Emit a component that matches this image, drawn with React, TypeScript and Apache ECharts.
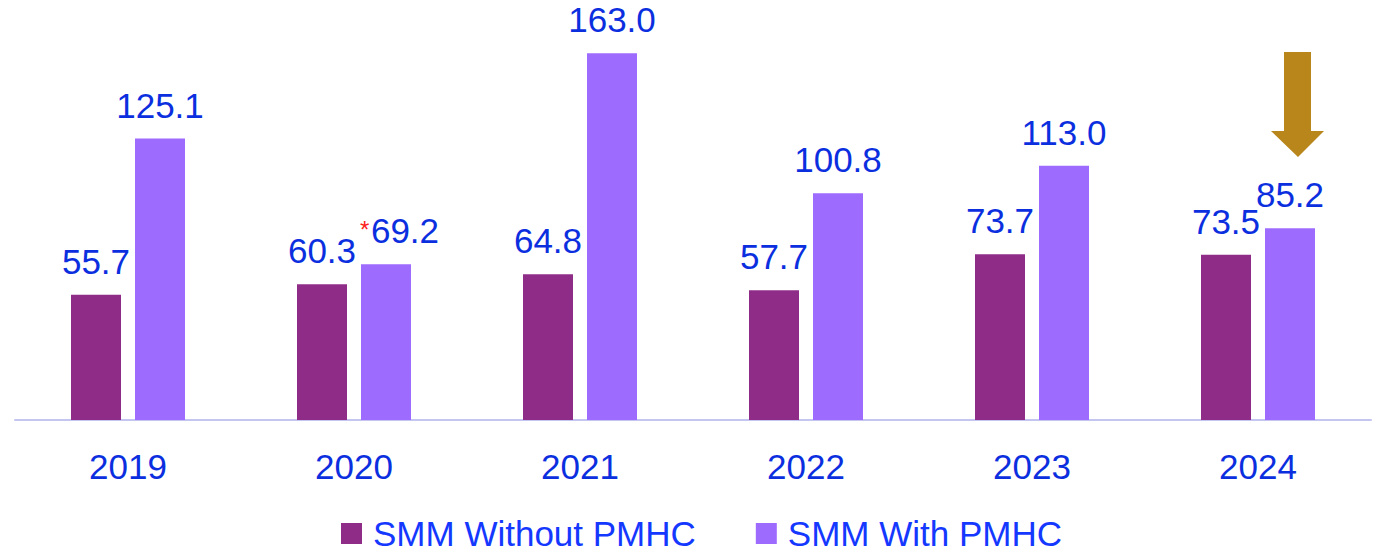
import React, { useEffect, useRef } from "react";
import * as echarts from "echarts";

const years = ["2019", "2020", "2021", "2022", "2023", "2024"];
const withoutPMHC = [55.7, 60.3, 64.8, 57.7, 73.7, 73.5];
const withPMHC = [125.1, 69.2, 163.0, 100.8, 113.0, 85.2];
const seriesNames = ["SMM Without PMHC", "SMM With PMHC"];

const FONT = "'Liberation Sans', Arial, sans-serif";
const BLUE = "#0B2FDF";

export default function App() {
  const ref = useRef<HTMLDivElement>(null);
  useEffect(() => {
    if (!ref.current) return;
    const chart = echarts.init(ref.current, undefined, { renderer: "svg" });
    const labelStyle = {
      show: true,
      position: "top" as const,
      distance: 16,
      color: BLUE,
      fontSize: 35,
      fontFamily: FONT,
      formatter: (p: any) => Number(p.value).toFixed(1),
    };
    chart.setOption({
      animation: false,
      grid: { left: 15, right: 18, top: 15, bottom: 133 },
      legend: {
        left: 341,
        top: 516,
        padding: 0,
        itemWidth: 21,
        itemHeight: 21,
        itemGap: 60,
        icon: "rect",
        textStyle: {
          color: "#1438FF",
          fontSize: 35,
          lineHeight: 28,
          fontFamily: FONT,
          padding: [0, 0, 0, 6],
        },
        data: seriesNames,
      },
      xAxis: {
        type: "category",
        data: years,
        axisLine: { lineStyle: { color: "#C5C5F2", width: 2 } },
        axisTick: { show: false },
        axisLabel: { color: BLUE, fontSize: 35, fontFamily: FONT, margin: 29 },
      },
      yAxis: {
        type: "value",
        min: 0,
        max: 180,
        show: false,
        splitLine: { show: false },
      },
      series: [
        {
          name: seriesNames[0],
          type: "bar",
          data: withoutPMHC,
          barWidth: 50,
          barGap: "28%",
          itemStyle: { color: "#8E2C88" },
          label: labelStyle,
        },
        {
          name: seriesNames[1],
          type: "bar",
          data: withPMHC.map((v, i) =>
            i === 1 ? { value: v, label: { offset: [19, 0] } } : v
          ),
          barWidth: 50,
          itemStyle: { color: "#9E6BFF" },
          label: labelStyle,
        },
      ],
      graphic: [
        {
          type: "polygon",
          shape: {
            points: [
              [1284, 52],
              [1311, 52],
              [1311, 131],
              [1324, 131],
              [1298, 157],
              [1271, 131],
              [1284, 131],
            ],
          },
          style: { fill: "#B8861B" },
        },
        {
          type: "text",
          x: 360,
          y: 217,
          style: { text: "*", fill: "#FF2020", fontSize: 24, fontFamily: FONT },
        },
      ],
    });
    return () => chart.dispose();
  }, []);
  return (
    <div
      ref={ref}
      style={{ position: "fixed", left: 0, top: 0, width: 1389, height: 553, background: "#fff" }}
    />
  );
}
